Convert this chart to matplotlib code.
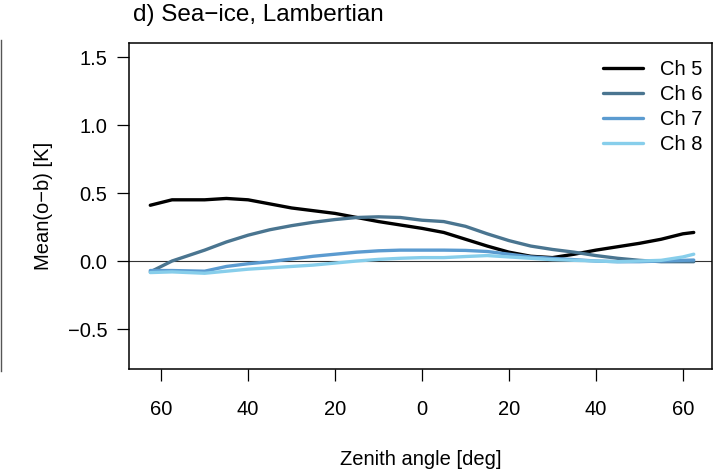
import numpy as np
import matplotlib
matplotlib.use("Agg")
import matplotlib.pyplot as plt
from matplotlib.lines import Line2D

plt.rcParams['font.family'] = ['Liberation Sans', 'DejaVu Sans']

# zenith angle (negative = one side of the scan)
zen = [-62.5, -57.5, -50, -45, -40, -35, -30, -25, -20, -15, -10, -5, 0,
       5, 10, 15, 20, 25, 30, 35, 40, 45, 50, 55, 60, 62.5]

ch5 = [0.41, 0.45, 0.45, 0.46, 0.45, 0.42, 0.39, 0.37, 0.35, 0.32, 0.29, 0.265, 0.24,
       0.21, 0.16, 0.11, 0.065, 0.035, 0.025, 0.05, 0.08, 0.105, 0.13, 0.16, 0.2, 0.21]
ch6 = [-0.08, 0.0, 0.08, 0.14, 0.19, 0.23, 0.26, 0.285, 0.305, 0.32, 0.325, 0.32, 0.30,
       0.29, 0.255, 0.2, 0.15, 0.11, 0.085, 0.065, 0.04, 0.02, 0.005, -0.005, -0.005, -0.005]
ch7 = [-0.07, -0.07, -0.075, -0.04, -0.02, -0.005, 0.015, 0.035, 0.05, 0.065, 0.075, 0.08, 0.08,
       0.08, 0.078, 0.07, 0.05, 0.03, 0.02, 0.01, 0.0, -0.005, -0.005, 0.0, 0.005, 0.007]
ch8 = [-0.085, -0.08, -0.09, -0.075, -0.06, -0.05, -0.04, -0.03, -0.015, 0.0, 0.012, 0.02, 0.025,
       0.025, 0.033, 0.04, 0.03, 0.02, 0.01, 0.005, 0.0, -0.005, 0.0, 0.005, 0.03, 0.05]

labels = ['Ch 5', 'Ch 6', 'Ch 7', 'Ch 8']
colors = ['#000000', '#4a7590', '#5b9bd0', '#87ceeb']

xticks = [-60, -40, -20, 0, 20, 40, 60]
xticklabels = ['60', '40', '20', '0', '20', '40', '60']
yticks = [-0.5, 0.0, 0.5, 1.0, 1.5]

fig = plt.figure(figsize=(7.23, 4.70), dpi=100)
ax = fig.add_axes([0.1784, 0.2149, 0.8064, 0.6936])

ax.axhline(0, color='#333333', lw=0.8, zorder=1)
for y, lab, c in zip([ch5, ch6, ch7, ch8], labels, colors):
    ax.plot(zen, y, color=c, lw=2.4, label=lab, solid_capstyle='round')

ax.set_xlim(-67.4, 66.7)
ax.set_ylim(-0.794, 1.603)
ax.set_xticks(xticks)
ax.set_xticklabels(xticklabels)
ax.set_yticks(yticks)
ax.set_yticklabels(['\u22120.5', '0.0', '0.5', '1.0', '1.5'])
ax.tick_params(direction='out', length=8.5, width=0.9, labelsize=14.5, pad=7)
ax.tick_params(axis='x', pad=14)
for s in ax.spines.values():
    s.set_linewidth(1.1)

ax.set_xlabel('Zenith angle [deg]', fontsize=14.5, labelpad=22)
ax.set_ylabel('Mean(o\u2212b) [K]', fontsize=14.5, labelpad=11)
fig.text(0.184, 0.968, 'd) Sea\u2212ice, Lambertian', fontsize=17.5, ha='left', va='center')

ax.legend(loc='upper right', frameon=False, fontsize=14.5, handlelength=2.0,
          handletextpad=0.85, labelspacing=0.3, borderaxespad=0.3,
          bbox_to_anchor=(1.008, 0.99))

# edge of the neighbouring panel
fig.add_artist(Line2D([0.002, 0.002], [0.21, 0.915], color='#555555', lw=1.0,
                      transform=fig.transFigure))

fig.savefig('out.png', dpi=100)
